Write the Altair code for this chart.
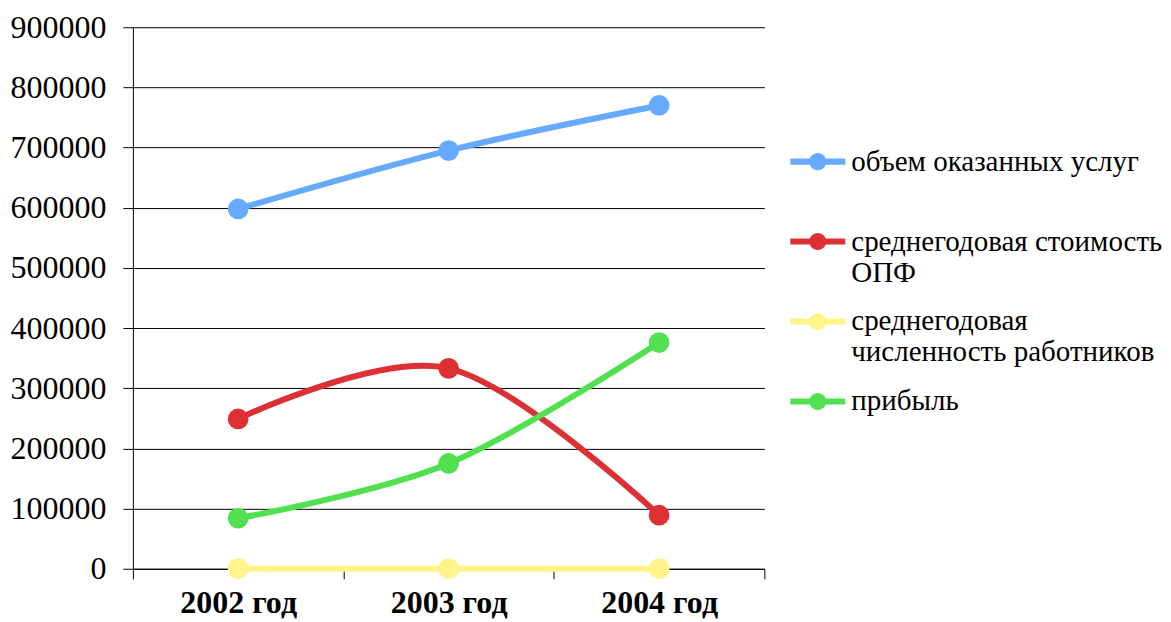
import altair as alt
import pandas as pd

years = ["2002 год", "2003 год", "2004 год"]
series = [
    "объем оказанных услуг",
    "среднегодовая стоимость\nОПФ",
    "среднегодовая\nчисленность работников",
    "прибыль",
]
volume = [598000, 695000, 770000]
opf_cost = [249000, 333000, 89000]
employees = [150, 155, 160]
profit = [84000, 175000, 376000]
colors = ["#66aaff", "#dd3035", "#fff38a", "#50e050"]

rows = []
for name, vals in zip(series, [volume, opf_cost, employees, profit]):
    for i, (y, v) in enumerate(zip(years, vals)):
        rows.append({"year": y, "series": name, "value": v, "order": series.index(name)})
df = pd.DataFrame(rows)

font = "Liberation Serif"
sym_path = ("M-1,-0.11L1,-0.11L1,0.11L-1,0.11Z "
            "M-0.31,0A0.31,0.31 0 1,1 0.31,0A0.31,0.31 0 1,1 -0.31,0Z")

color = alt.Color(
    "series:N",
    scale=alt.Scale(domain=series, range=colors),
    sort=series,
    legend=alt.Legend(
        title=None,
        orient="none",
        legendX=658,
        legendY=107,
        labelExpr="indexof(datum.label, '\\n') >= 0 ? split(datum.label, '\\n') : [datum.label, '']",
        labelFont=font,
        labelFontSize=29,
        labelColor="#000",
        labelLimit=400,
        symbolType=sym_path,
        symbolSize=3025,
        symbolStrokeWidth=0,
        labelOffset=6,
    ),
)

base = alt.Chart(df).encode(
    x=alt.X(
        "year:N",
        sort=years,
        title=None,
        scale=alt.Scale(paddingInner=0, paddingOuter=0),
        axis=alt.Axis(
            labelAngle=0,
            labelFont=font,
            labelFontSize=32,
            labelFontWeight="bold",
            labelColor="#000",
            labelPadding=9,
            tickBand="extent",
            tickSize=10,
            tickColor="#000",
            domainColor="#000",
            grid=False,
        ),
    ),
    y=alt.Y(
        "value:Q",
        title=None,
        scale=alt.Scale(domain=[0, 900000], nice=False),
        axis=alt.Axis(
            values=list(range(0, 900001, 100000)),
            format="d",
            labelFont=font,
            labelFontSize=32,
            labelColor="#000",
            labelPadding=17,
            tickSize=10,
            tickColor="#000",
            domainColor="#000",
            gridColor="#000",
            gridWidth=1,
            gridOpacity=1,
        ),
    ),
    color=color,
    order=alt.Order("order:Q"),
)

lines = base.mark_line(interpolate="cardinal", strokeWidth=6)
points = base.mark_point(filled=True, size=430, opacity=1)

chart = (
    alt.layer(lines, points)
    .properties(width=632, height=542, padding={"left": 2, "top": 3, "right": 0, "bottom": 0})
    .configure_view(stroke=None)
    .configure_legend(rowPadding=6)
)

chart.save("out.html", embed_options={"renderer": "svg", "actions": False})
